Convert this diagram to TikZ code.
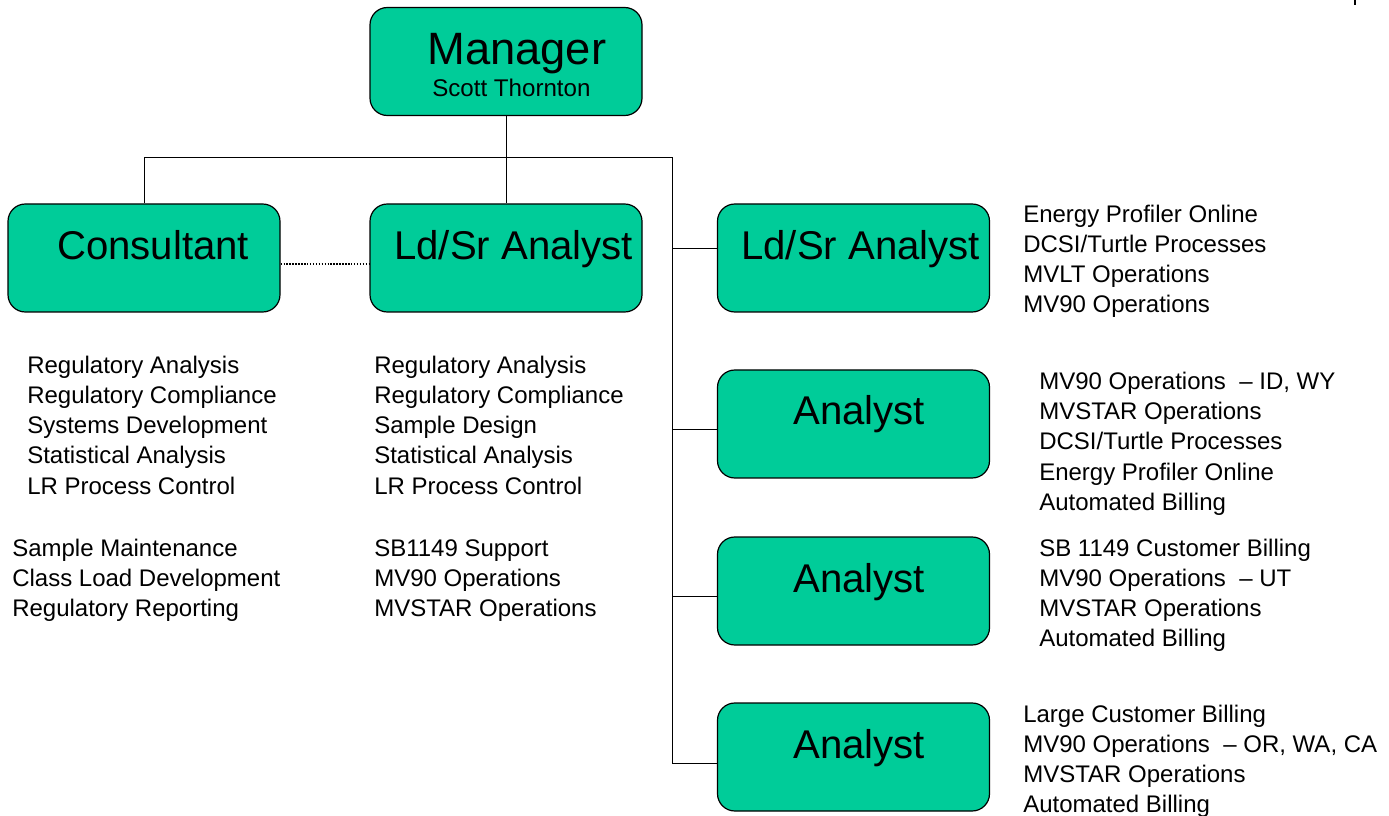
\documentclass[tikz,border=0pt]{standalone}
\usepackage{fontspec}
\setmainfont{Liberation Sans}
\definecolor{boxgreen}{HTML}{00CC99}
\begin{document}
\begin{tikzpicture}[x=0.75pt,y=-0.75pt,
  orgbox/.style={draw=black,line width=0.9pt,fill=boxgreen,rounded corners=13pt,
    minimum width=204pt,minimum height=81pt,inner sep=0pt},
  bigtxt/.style={anchor=base west,inner sep=0pt,font=\fontsize{30.1pt}{35pt}\selectfont},
  mgrtxt/.style={anchor=base west,inner sep=0pt,font=\fontsize{34pt}{38pt}\selectfont},
  subtxt/.style={anchor=base west,inner sep=0pt,font=\fontsize{18.1pt}{22pt}\selectfont},
  listtxt/.style={anchor=base west,inner sep=0pt,font=\fontsize{18pt}{22pt}\selectfont},
  conn/.style={draw=black,line width=0.75pt},
  dotconn/.style={draw=black,line width=1.4pt,dash pattern=on 1.1pt off 1.1pt}]
\useasboundingbox (0,0) rectangle (1389,816);

% boxes
\node[orgbox] (mgr) at (506,61.5) {};
\node[orgbox] (cons) at (144,258) {};
\node[orgbox] (mid) at (506,258) {};
\node[orgbox] (ldr) at (853.5,258) {};
\node[orgbox] (a1) at (853.5,424) {};
\node[orgbox] (a2) at (853.5,591) {};
\node[orgbox] (a3) at (853.5,757) {};

% box titles
\node[mgrtxt] (tmgr) at (427,65) {Manager};
\node[subtxt] (tname) at (432,97) {Scott Thornton};
\node[bigtxt] (tcons) at (57,260) {Consultant};
\node[bigtxt] (tmid) at (394,260) {Ld/Sr Analyst};
\node[bigtxt] (tldr) at (741,260) {Ld/Sr Analyst};
\node[bigtxt] (ta1) at (793,425) {Analyst};
\node[bigtxt] (ta2) at (793,592) {Analyst};
\node[bigtxt] (ta3) at (793,758) {Analyst};

% connectors
\coordinate (busL) at (145,158);
\coordinate (busR) at (672,158);
\coordinate (yL) at (0,249);
\coordinate (y1) at (0,430);
\coordinate (y2) at (0,596);
\coordinate (y3) at (0,763);
\draw[conn] (mgr.south) -- (mid.north);
\draw[conn] (cons.north) -- (cons.north |- busL) -- (busR) -- (busR |- y3) -- (a3.west |- y3);
\draw[conn] (busR |- yL) -- (ldr.west |- yL);
\draw[conn] (busR |- y1) -- (a1.west |- y1);
\draw[conn] (busR |- y2) -- (a2.west |- y2);
\coordinate (dotY) at (0,264);
\draw[dotconn] (cons.east |- dotY) -- (mid.west |- dotY);

% stray mark top right
\coordinate (markA) at (1355,0);
\coordinate (markB) at (1355,5);
\draw[line width=1.8pt] (markA) -- (markB);

% lists
\foreach \t [count=\i] in {Regulatory Analysis,Regulatory Compliance,Systems Development,Statistical Analysis,LR Process Control}
  \node[listtxt,name=cl\i] at (27,344+30*\i) {\t};
\foreach \t [count=\i] in {Sample Maintenance,Class Load Development,Regulatory Reporting}
  \node[listtxt,name=cm\i] at (12,526+30*\i) {\t};
\foreach \t [count=\i] in {Regulatory Analysis,Regulatory Compliance,Sample Design,Statistical Analysis,LR Process Control}
  \node[listtxt,name=ml\i] at (374,344+30*\i) {\t};
\foreach \t [count=\i] in {SB1149 Support,MV90 Operations,MVSTAR Operations}
  \node[listtxt,name=mm\i] at (374,526+30*\i) {\t};
\foreach \t [count=\i] in {Energy Profiler Online,DCSI/Turtle Processes,MVLT Operations,MV90 Operations}
  \node[listtxt,name=rl\i] at (1023,193+30*\i) {\t};
\foreach \t [count=\i] in {MV90 Operations\ \ -- ID{,} WY,MVSTAR Operations,DCSI/Turtle Processes,Energy Profiler Online,Automated Billing}
  \node[listtxt,name=al\i] at (1039,360+30*\i) {\t};
\foreach \t [count=\i] in {SB 1149 Customer Billing,MV90 Operations\ \ -- UT,MVSTAR Operations,Automated Billing}
  \node[listtxt,name=bl\i] at (1039,526+30*\i) {\t};
\foreach \t [count=\i] in {Large Customer Billing,MV90 Operations\ \ -- OR{,} WA{,} CA,MVSTAR Operations,Automated Billing}
  \node[listtxt,name=dl\i] at (1023,691.7+30.3*\i) {\t};
\end{tikzpicture}
\end{document}
